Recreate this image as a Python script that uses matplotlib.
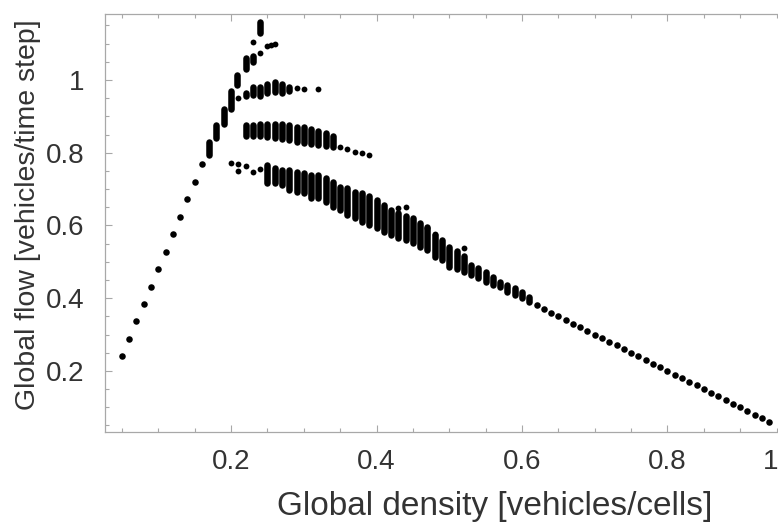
import matplotlib
matplotlib.use("Agg")
import matplotlib.pyplot as plt
from matplotlib.ticker import MultipleLocator

# ---------------- data ----------------
# free-flow branch: single dots
free_rho = [0.05, 0.06, 0.07, 0.08, 0.09, 0.10, 0.11, 0.12, 0.13, 0.14, 0.15, 0.16]
free_flow = [0.24, 0.288, 0.336, 0.384, 0.432, 0.48, 0.528, 0.576, 0.624, 0.672, 0.72, 0.768]

# vertical stacks of overlapping dots: density, lowest flow, highest flow
stack_rho = [0.17, 0.18, 0.19, 0.20, 0.208, 0.22, 0.23, 0.24,
             # ~0.97 branch
             0.22, 0.23, 0.24, 0.25, 0.26, 0.27, 0.28,
             # ~0.86 branch
             0.22, 0.23, 0.24, 0.25, 0.26, 0.27, 0.28, 0.29, 0.30, 0.31, 0.32, 0.33, 0.34,
             # lower / jammed branch
             0.25, 0.26, 0.27, 0.28, 0.29, 0.30, 0.31, 0.32, 0.33, 0.34, 0.35, 0.36,
             0.37, 0.38, 0.39, 0.40, 0.41, 0.42, 0.43, 0.44, 0.45, 0.46, 0.47, 0.48,
             0.49, 0.50, 0.51, 0.52, 0.53, 0.54, 0.55, 0.56, 0.57, 0.58, 0.59, 0.60, 0.61]
stack_lo = [0.795, 0.84, 0.88, 0.92, 0.985, 1.03, 1.05, 1.13,
            0.955, 0.96, 0.955, 0.965, 0.968, 0.965, 0.97,
            0.845, 0.845, 0.845, 0.842, 0.84, 0.838, 0.835, 0.83, 0.828, 0.825, 0.822, 0.818, 0.815,
            0.717, 0.717, 0.712, 0.698, 0.692, 0.69, 0.676, 0.676, 0.665, 0.651, 0.643, 0.629,
            0.62, 0.61, 0.60, 0.593, 0.582, 0.574, 0.566, 0.56, 0.552, 0.541, 0.533, 0.514,
            0.505, 0.486, 0.48, 0.472, 0.464, 0.456, 0.445, 0.437, 0.431, 0.417, 0.409, 0.40, 0.39]
stack_hi = [0.83, 0.875, 0.92, 0.97, 1.015, 1.06, 1.065, 1.16,
            0.965, 0.98, 0.98, 0.99, 0.995, 0.99, 0.98,
            0.875, 0.875, 0.878, 0.878, 0.878, 0.878, 0.875, 0.872, 0.87, 0.865, 0.86, 0.855, 0.845,
            0.767, 0.758, 0.753, 0.753, 0.747, 0.745, 0.739, 0.739, 0.731, 0.72, 0.706, 0.703,
            0.692, 0.69, 0.68, 0.67, 0.657, 0.643, 0.635, 0.625, 0.62, 0.607, 0.596, 0.574,
            0.56, 0.541, 0.53, 0.515, 0.492, 0.483, 0.472, 0.459, 0.445, 0.437, 0.428, 0.417, 0.404]

# isolated dots in the metastable region
dot_rho = [0.23, 0.24, 0.25, 0.255, 0.26,
           0.21, 0.29, 0.30, 0.32,
           0.35, 0.36, 0.37, 0.38, 0.39,
           0.20, 0.21, 0.21, 0.22, 0.23, 0.24,
           0.43, 0.44, 0.47, 0.48, 0.52]
dot_flow = [1.105, 1.075, 1.094, 1.097, 1.10,
            0.951, 0.978, 0.976, 0.976,
            0.815, 0.81, 0.803, 0.80, 0.795,
            0.772, 0.769, 0.75, 0.764, 0.747, 0.755,
            0.648, 0.65, 0.593, 0.577, 0.538]

# jammed branch: single dots
jam_rho = [0.62, 0.63, 0.64, 0.65, 0.66, 0.67, 0.68, 0.69, 0.70, 0.71, 0.72,
           0.73, 0.74, 0.75, 0.76, 0.77, 0.78, 0.79, 0.80, 0.81, 0.82, 0.83,
           0.84, 0.85, 0.86, 0.87, 0.88, 0.89, 0.90, 0.91, 0.92, 0.93, 0.94]
jam_flow = [0.38, 0.37, 0.36, 0.35, 0.34, 0.33, 0.32, 0.31, 0.30, 0.29, 0.28,
            0.27, 0.26, 0.25, 0.24, 0.23, 0.22, 0.21, 0.20, 0.19, 0.18, 0.17,
            0.16, 0.15, 0.14, 0.13, 0.12, 0.11, 0.10, 0.09, 0.08, 0.07, 0.06]

x_ticks = [0.2, 0.4, 0.6, 0.8]
x_tick_labels = ["0.2", "0.4", "0.6", "0.8"]
last_x_label = "1"
y_ticks = [0.2, 0.4, 0.6, 0.8, 1.0]
y_tick_labels = ["0.2", "0.4", "0.6", "0.8", "1"]
x_label = "Global density [vehicles/cells]"
y_label = "Global flow [vehicles/time step]"

# ---------------- drawing ----------------
plt.rcParams['font.family'] = ['Liberation Sans', 'DejaVu Sans']

W, H = 778, 523
fig = plt.figure(figsize=(W / 100, H / 100), dpi=100)
ax = fig.add_axes([105 / W, 91 / H, 673 / W, 418 / H])
ax.set_xlim(0.0267, 0.952)
ax.set_ylim(0.032, 1.1816)

dot_size = 4.7  # points (diameter)
ax.vlines(stack_rho, stack_lo, stack_hi, colors='black', linewidth=dot_size,
          capstyle='round')
for coll in ax.collections:
    coll.set_capstyle('round')
ms = dot_size ** 2
ax.scatter(free_rho, free_flow, s=ms, c='black', linewidths=0)
ax.scatter(dot_rho, dot_flow, s=ms * 0.8, c='black', linewidths=0)
ax.scatter(jam_rho, jam_flow, s=ms, c='black', linewidths=0)

spine_c = '#a8a8a8'
for side in ['left', 'bottom', 'top']:
    ax.spines[side].set_color(spine_c)
    ax.spines[side].set_linewidth(0.9)
ax.spines['right'].set_visible(False)

ax.set_xticks(x_ticks)
ax.set_xticklabels(x_tick_labels)
ax.set_yticks(y_ticks)
ax.set_yticklabels(y_tick_labels)
ax.xaxis.set_minor_locator(MultipleLocator(0.05))
ax.yaxis.set_minor_locator(MultipleLocator(0.05))
ax.tick_params(which='both', direction='in', top=True, right=False, color=spine_c,
               width=0.8)
ax.tick_params(which='major', length=5)
ax.tick_params(which='minor', length=3)
ax.tick_params(axis='both', which='major', labelsize=20, labelcolor='#333333')
ax.tick_params(axis='x', which='major', pad=12)
ax.tick_params(axis='y', which='major', pad=15)

fig.text(1.0, 1 - 462 / H, last_x_label, ha='right', va='center',
         fontsize=20, color='#333333')

ax.set_xlabel(x_label, fontsize=24, color='#333333')
ax.xaxis.set_label_coords((495 - 105) / 673, -(506 - 432) / 418)
ax.xaxis.label.set_va('center')
ax.set_ylabel(y_label, fontsize=20.5, color='#333333')
ax.yaxis.set_label_coords(-(105 - 28) / 673, (432 - 215) / 418)
ax.yaxis.label.set_va('center')

fig.savefig("out.png", dpi=100)
